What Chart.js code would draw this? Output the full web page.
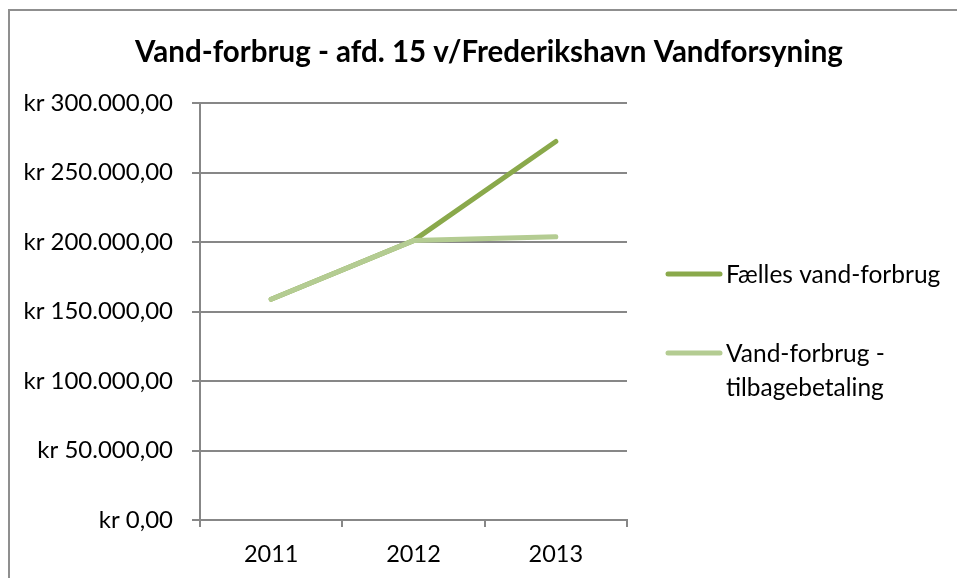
<!DOCTYPE html>
<html lang="da">
<head>
  <meta charset="UTF-8">
  <title>Vand-forbrug - afd. 15</title>
  <script src="https://cdn.jsdelivr.net/npm/chart.js"></script>
  <style>
    body { margin: 0; background: #fff; }
    #wrap { position: relative; width: 957px; height: 578px; }
  </style>
</head>
<body>
  <div id="wrap">
    <canvas id="vandChart" width="957" height="578"></canvas>
  </div>

  <script>
    // data
    const years = ['2011', '2012', '2013'];
    const faellesForbrug = [158800, 201000, 272300];
    const tilbagebetaling = [158800, 201000, 203800];
    const seriesNames = ['Fælles vand-forbrug', 'Vand-forbrug - tilbagebetaling'];
    const seriesColors = ['#8aa94b', '#b4cc92'];
    const chartTitle = 'Vand-forbrug - afd. 15 v/Frederikshavn Vandforsyning';

    const FONT = 'Lato, "Open Sans", sans-serif';
    const GRID = '#878787';

    function kr(v) {
      // danish style: kr 300.000,00
      const s = Math.round(v).toString().replace(/\B(?=(\d{3})+(?!\d))/g, '.');
      return 'kr ' + s + ',00';
    }

    // title, frame and legend drawn by hand (legend wraps like the original)
    const decorPlugin = {
      id: 'decor',
      afterDraw(chart) {
        const ctx = chart.ctx;
        ctx.save();
        ctx.strokeStyle = '#8f8f8f';
        ctx.lineWidth = 2;
        ctx.beginPath();
        ctx.moveTo(9, 578);
        ctx.lineTo(9, 10);
        ctx.lineTo(957, 10);
        ctx.stroke();

        ctx.fillStyle = '#000';
        ctx.font = 'bold 29.5px ' + FONT;
        ctx.textAlign = 'center';
        ctx.textBaseline = 'middle';
        ctx.fillText(chartTitle, 489, 52);

        ctx.font = '24.5px ' + FONT;
        ctx.textAlign = 'left';
        const rows = [274, 353];
        chart.data.datasets.forEach((ds, i) => {
          const y = rows[i];
          ctx.strokeStyle = ds.borderColor;
          ctx.lineWidth = 5;
          ctx.lineCap = 'round';
          ctx.beginPath();
          ctx.moveTo(668, y);
          ctx.lineTo(720, y);
          ctx.stroke();
          // greedy wrap
          const words = ds.label.split(' ');
          const lines = [];
          let cur = '';
          words.forEach(w => {
            const t = cur ? cur + ' ' + w : w;
            if (ctx.measureText(t).width > 222 && cur) { lines.push(cur); cur = w; }
            else cur = t;
          });
          lines.push(cur);
          lines.forEach((l, j) => ctx.fillText(l, 726, y + 1 + j * 34));
        });
        ctx.restore();
      }
    };

    const ctx = document.getElementById('vandChart').getContext('2d');
    new Chart(ctx, {
      type: 'line',
      data: {
        labels: years,
        datasets: [
          {
            label: seriesNames[0],
            data: faellesForbrug,
            borderColor: seriesColors[0],
            backgroundColor: seriesColors[0],
            borderWidth: 5,
            borderCapStyle: 'round',
            borderJoinStyle: 'round',
            pointRadius: 0,
            tension: 0,
            order: 1
          },
          {
            label: seriesNames[1],
            data: tilbagebetaling,
            borderColor: seriesColors[1],
            backgroundColor: seriesColors[1],
            borderWidth: 5,
            borderCapStyle: 'round',
            borderJoinStyle: 'round',
            pointRadius: 0,
            tension: 0,
            order: 0
          }
        ]
      },
      options: {
        responsive: false,
        animation: false,
        layout: { padding: { top: 103, right: 330, left: 0, bottom: 0 } },
        plugins: {
          legend: { display: false },
          title: { display: false },
          tooltip: { enabled: false }
        },
        scales: {
          x: {
            offset: true,
            afterFit: (s) => { s.height = 58; },
            grid: { offset: true, drawOnChartArea: false, drawTicks: true, tickLength: 7, color: GRID, lineWidth: 2 },
            border: { display: true, color: GRID, width: 2 },
            ticks: { color: '#000', font: { family: FONT, size: 23.5 }, padding: 13 }
          },
          y: {
            min: 0,
            max: 300000,
            afterFit: (s) => { s.width = 200; },
            grid: { color: GRID, lineWidth: 2, tickLength: 8 },
            border: { display: true, color: GRID, width: 2 },
            ticks: {
              stepSize: 50000,
              color: '#000',
              font: { family: FONT, size: 24 },
              padding: 19,
              callback: (v) => kr(v)
            }
          }
        }
      },
      plugins: [decorPlugin]
    });
  </script>
</body>
</html>
